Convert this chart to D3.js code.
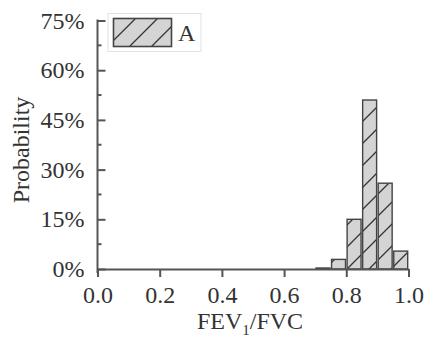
<!DOCTYPE html>
<html>
<head>
<meta charset="utf-8">
<script src="https://cdn.jsdelivr.net/npm/d3@7"></script>
<style>
  body { margin: 0; background: #fff; }
  svg { display: block; font-family: "Liberation Serif", "Times New Roman", serif; }
</style>
</head>
<body>
<div id="chart"></div>
<script>
// histogram bins (left edge) and probability in %
const binStarts = [0.70, 0.75, 0.80, 0.85, 0.90, 0.95]
const probability = [0.3, 2.9, 15.0, 51.0, 25.9, 5.4]
const binWidth = 0.05
const xTicks = [0, 0.2, 0.4, 0.6, 0.8, 1.0]
const yTicks = [0, 15, 30, 45, 60, 75]
const yMinorTicks = [7.5, 22.5, 37.5, 52.5, 67.5]
const seriesName = "A"

const width = 435, height = 354
const axisColor = "#555"

const svg = d3.select("#chart").append("svg")
  .attr("width", width)
  .attr("height", height)

const x = d3.scaleLinear().domain([0, 1]).range([97.5, 408.5])
const y = d3.scaleLinear().domain([0, 75]).range([269, 20.5])

// hatch pattern
const defs = svg.append("defs")
const pat = defs.append("pattern")
  .attr("id", "hatch")
  .attr("patternUnits", "userSpaceOnUse")
  .attr("width", 22)
  .attr("height", 22)
pat.append("rect").attr("width", 22).attr("height", 22).attr("fill", "#d4d4d4")
pat.append("path")
  .attr("d", "M-2,24 L24,-2 M-6,6 L6,-6 M16,28 L28,16")
  .attr("stroke", "#333")
  .attr("stroke-width", 1.3)

const rows = binStarts.map((s, i) => ({ start: s, value: probability[i] }))

// bars
svg.append("g").selectAll("rect")
  .data(rows)
  .join("rect")
  .attr("x", d => x(d.start) + 0.8)
  .attr("width", d => x(d.start + binWidth) - x(d.start) - 1.6)
  .attr("y", d => y(d.value))
  .attr("height", d => y(0) - y(d.value))
  .attr("fill", "url(#hatch)")
  .attr("stroke", "#444")
  .attr("stroke-width", 1.4)

// x axis: ticks outward
const xAxis = svg.append("g")
  .attr("transform", `translate(0,${y(0)})`)
  .call(d3.axisBottom(x).tickValues(xTicks).tickFormat(d3.format(".1f")).tickSize(8).tickPadding(9).tickSizeOuter(0))
xAxis.select(".domain").attr("stroke", axisColor).attr("stroke-width", 2)
xAxis.selectAll(".tick line").attr("stroke", axisColor).attr("stroke-width", 2)
xAxis.selectAll(".tick text")
  .attr("fill", "#333")
  .style("font-size", "24px")
  .style("font-family", "Liberation Serif, serif")

// y axis: ticks pointing into the plot
const yAxis = svg.append("g")
  .attr("transform", `translate(${x(0)},0)`)
  .call(d3.axisLeft(y).tickValues(yTicks).tickFormat(d => d + "%").tickSize(-8).tickPadding(13).tickSizeOuter(0))
yAxis.select(".domain").attr("stroke", axisColor).attr("stroke-width", 2)
  .attr("d", `M0,${y(75) - 1}V${y(0) + 4}`)
yAxis.selectAll(".tick line").attr("stroke", axisColor).attr("stroke-width", 2)
yAxis.selectAll(".tick text")
  .attr("fill", "#333")
  .style("font-size", "24px")
  .style("font-family", "Liberation Serif, serif")

// minor y ticks
svg.append("g").selectAll("line")
  .data(yMinorTicks)
  .join("line")
  .attr("x1", x(0)).attr("x2", x(0) + 4)
  .attr("y1", d => y(d)).attr("y2", d => y(d))
  .attr("stroke", axisColor)
  .attr("stroke-width", 2)

// axis titles
const xTitle = svg.append("text")
  .attr("x", 250)
  .attr("y", 329)
  .attr("text-anchor", "middle")
  .attr("fill", "#333")
  .style("font-size", "24px")
xTitle.append("tspan").text("FEV")
xTitle.append("tspan").attr("dy", 6).style("font-size", "15px").text("1")
xTitle.append("tspan").attr("dy", -6).text("/FVC")

svg.append("text")
  .attr("transform", "translate(29,150) rotate(-90)")
  .attr("text-anchor", "middle")
  .attr("fill", "#333")
  .style("font-size", "24px")
  .text("Probability")

// legend
const legend = svg.append("g")
legend.append("rect")
  .attr("x", 108).attr("y", 13.5)
  .attr("width", 93).attr("height", 38)
  .attr("fill", "#fff")
  .attr("stroke", "#e2e2e2")
  .attr("stroke-width", 1)
legend.append("rect")
  .attr("x", 113.5).attr("y", 18.5)
  .attr("width", 58).attr("height", 28)
  .attr("fill", "url(#hatch)")
  .attr("stroke", "#444")
  .attr("stroke-width", 1.6)
legend.append("text")
  .attr("x", 178).attr("y", 41)
  .attr("fill", "#333")
  .style("font-size", "24px")
  .text(seriesName)
</script>
</body>
</html>
